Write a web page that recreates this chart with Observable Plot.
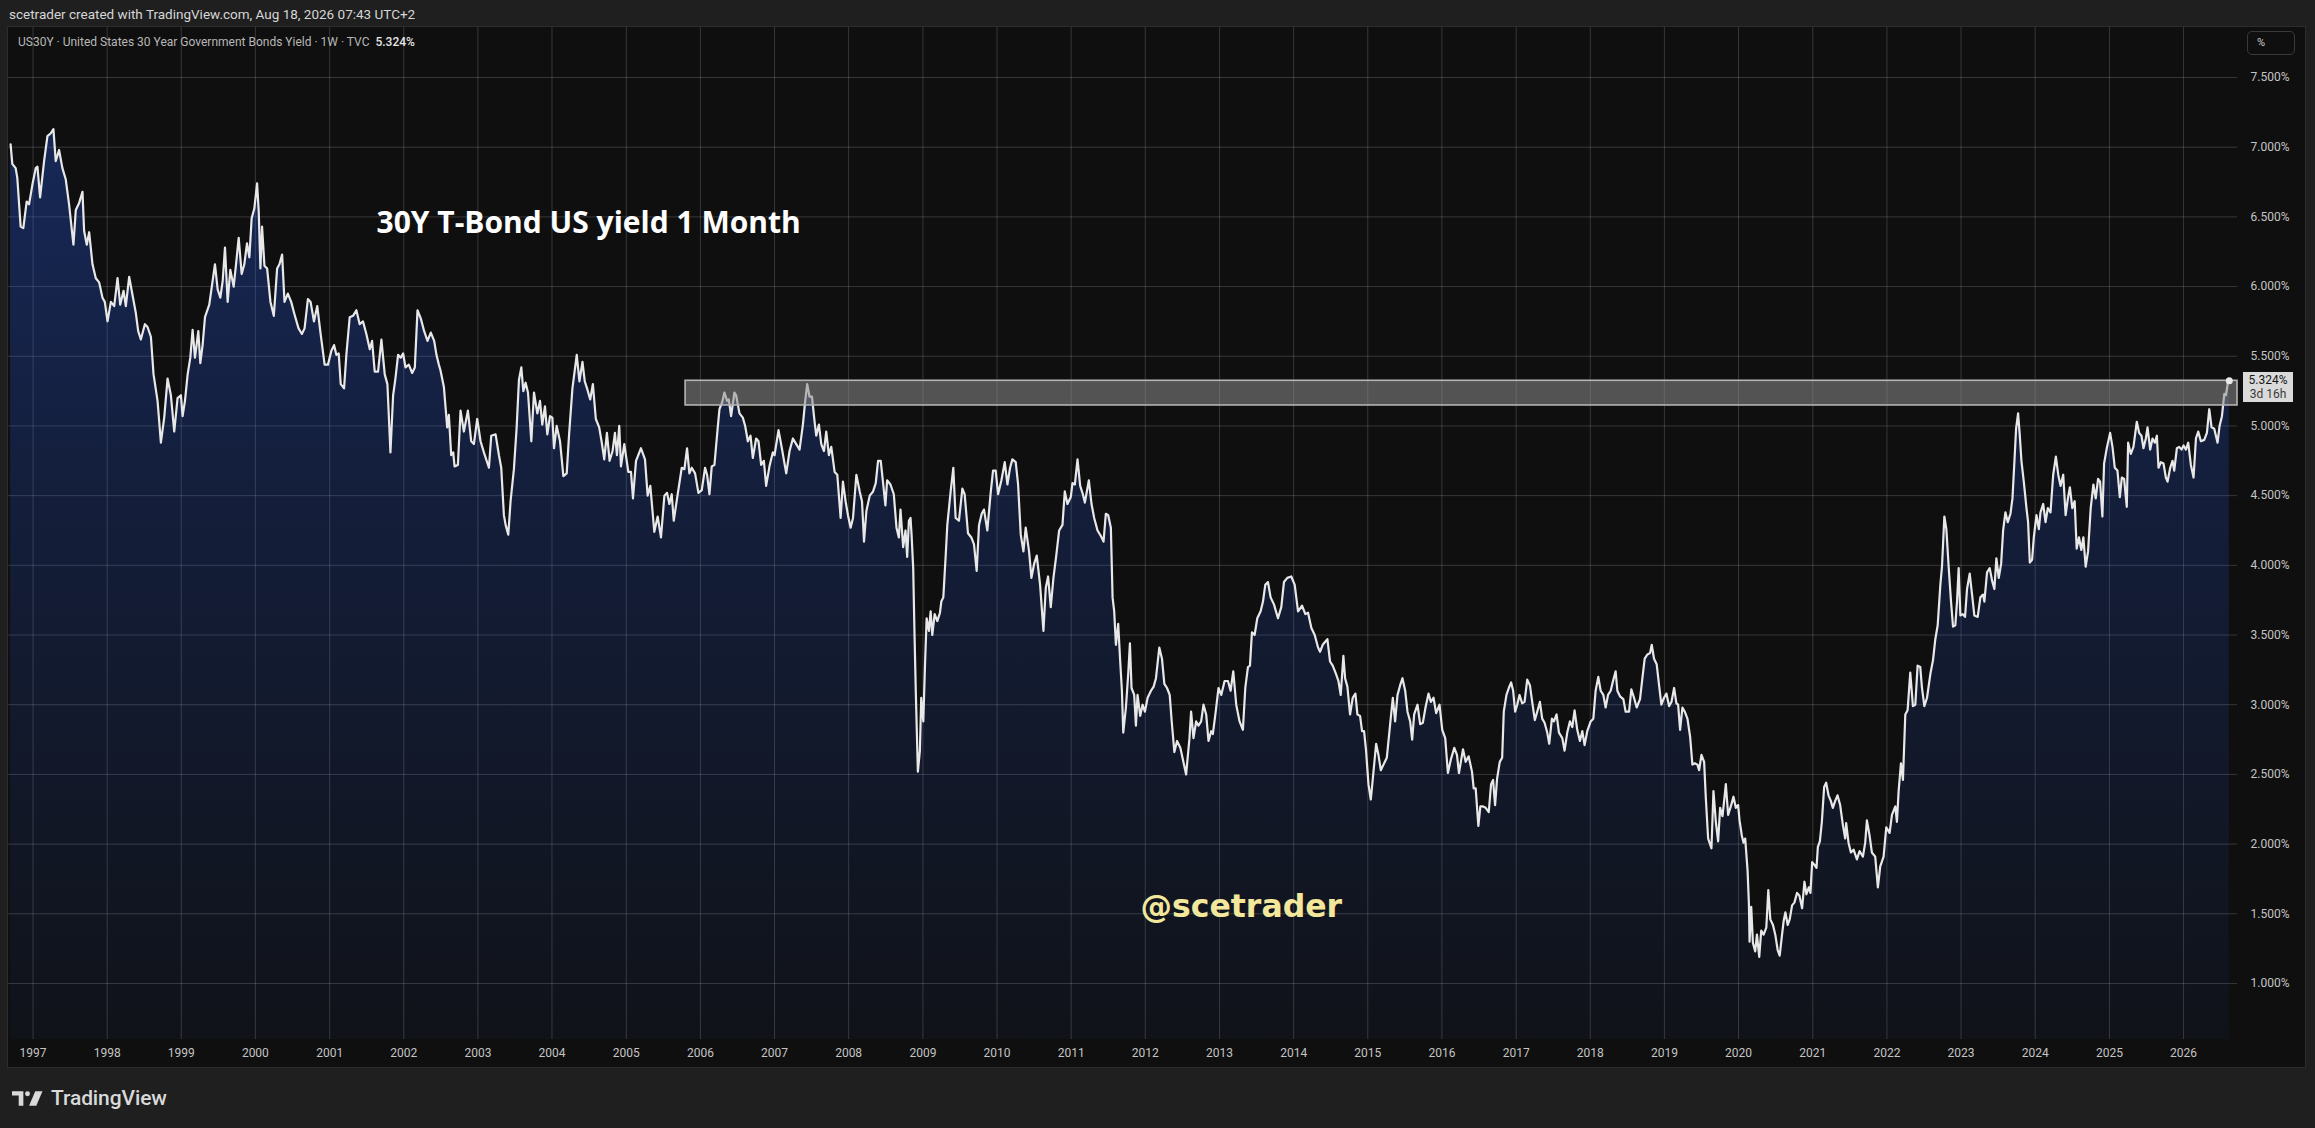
<!DOCTYPE html>
<html>
<head>
<meta charset="utf-8">
<script src="https://cdn.jsdelivr.net/npm/d3@7"></script>
<script src="https://cdn.jsdelivr.net/npm/@observablehq/plot@0.6"></script>
<style>
  html, body { margin: 0; padding: 0; background: #1f1f1f; }
  #root { position: relative; width: 2315px; height: 1128px; background: #1f1f1f; overflow: hidden; font-family: Roboto, sans-serif; }
  #hdr { position: absolute; left: 9px; top: 6px; font-size: 13.5px; line-height: 17px; color: #d6d6d6; white-space: nowrap; }
  #panel { position: absolute; left: 8px; top: 27px; width: 2297px; height: 1040px; background: #0f0f0f; box-shadow: 0 0 0 1px #2c2c2c; }
  #panel svg { display: block; }
  #legend { position: absolute; left: 10px; top: 7px; font-size: 12px; line-height: 16px; color: #b8b8b8; white-space: nowrap; }
  #legend b { color: #e6e6e6; font-weight: 500; margin-left: 6px; }
  #pct { position: absolute; left: 2239px; top: 4px; width: 48px; height: 24px; border: 1px solid #3a3a3a; border-radius: 5px; box-sizing: border-box; font-size: 11px; color: #cfcfcf; line-height: 22px; padding-left: 9px; }
  #lastlbl { position: absolute; left: 2235px; width: 50px; height: 30px; background: #dadada; color: #151515; font-size: 12px; line-height: 14px; text-align: center; padding-top: 1px; box-sizing: border-box; }
  #lastlbl span { display: block; color: #3c3c3c; }
  #footer { position: absolute; left: 12px; top: 1086px; height: 24px; display: flex; align-items: center; color: #d9d9d9; }
  #footer .name { font-family: Roboto, sans-serif; font-weight: 500; font-size: 21px; margin-left: 8px; letter-spacing: -0.1px; }
</style>
</head>
<body>
<div id="root">
  <div id="hdr"></div>
  <div id="panel">
    <div id="legend"></div>
    <div id="pct">%</div>
  </div>
  <div id="footer">
    <svg width="31" height="15" viewBox="0 0 30 14"><path d="M0 0H11V14H6.5V4.2H0Z" fill="#d9d9d9"/><circle cx="15" cy="2.4" r="2.4" fill="#d9d9d9"/><path d="M22.5 0H29.5L23.5 14H16.5Z" fill="#d9d9d9"/></svg>
    <span class="name">TradingView</span>
  </div>
</div>
<script>
// ---------------- text ----------------
const headerText = "scetrader created with TradingView.com, Aug 18, 2026 07:43 UTC+2";
const legendText = "US30Y · United States 30 Year Government Bonds Yield · 1W · TVC";
const legendValue = "5.324%";
const titleText = "30Y T-Bond US yield 1 Month";
const watermarkText = "@scetrader";
const lastLabelLines = ["5.324%", "3d 16h"];

// ---------------- axes ----------------
const yearTicks = [1997,1998,1999,2000,2001,2002,2003,2004,2005,2006,2007,2008,2009,2010,2011,2012,2013,2014,2015,2016,2017,2018,2019,2020,2021,2022,2023,2024,2025,2026];
const yieldTicks = [1.0,1.5,2.0,2.5,3.0,3.5,4.0,4.5,5.0,5.5,6.0,6.5,7.0,7.5];
const xRange = [1996.6696, 2026.728];   // visible time span (decimal years)
const yRange = [0.598, 7.8587];          // visible yield span (%)

// ---------------- resistance zone ----------------
const zoneStart = 2005.80;
const zoneLow = 5.147;
const zoneHigh = 5.324;

// ---------------- weekly yield: [decimal year, yield %] ----------------
const p1996_2002 = [[1996.698,7.02],[1996.721,6.88],[1996.766,6.85],[1996.788,6.78],[1996.833,6.43],[1996.869,6.42],[1996.914,6.61],[1996.946,6.59],[1996.991,6.73],[1997.036,6.85],[1997.059,6.86],[1997.095,6.64],[1997.149,6.90],[1997.194,7.08],[1997.239,7.10],[1997.275,7.13],[1997.306,6.90],[1997.351,6.98],[1997.396,6.85],[1997.441,6.77],[1997.486,6.59],[1997.545,6.30],[1997.577,6.55],[1997.622,6.60],[1997.667,6.68],[1997.689,6.40],[1997.725,6.30],[1997.757,6.39],[1997.802,6.16],[1997.847,6.06],[1997.892,6.03],[1997.937,5.92],[1997.968,5.89],[1998.005,5.75],[1998.050,5.89],[1998.095,5.86],[1998.140,6.06],[1998.176,5.87],[1998.221,5.97],[1998.252,5.86],[1998.297,6.07],[1998.342,5.94],[1998.387,5.81],[1998.419,5.68],[1998.455,5.62],[1998.509,5.73],[1998.545,5.71],[1998.590,5.64],[1998.626,5.37],[1998.680,5.18],[1998.725,4.88],[1998.770,5.06],[1998.815,5.34],[1998.860,5.22],[1998.905,4.96],[1998.950,5.20],[1998.995,5.22],[1999.018,5.07],[1999.050,5.18],[1999.086,5.37],[1999.122,5.49],[1999.153,5.69],[1999.185,5.49],[1999.230,5.68],[1999.257,5.45],[1999.288,5.58],[1999.320,5.78],[1999.378,5.87],[1999.423,6.04],[1999.455,6.16],[1999.491,5.98],[1999.527,5.92],[1999.559,6.04],[1999.590,6.28],[1999.626,5.89],[1999.662,6.12],[1999.707,6.00],[1999.739,6.16],[1999.775,6.35],[1999.815,6.09],[1999.851,6.16],[1999.887,6.31],[1999.919,6.21],[1999.950,6.49],[1999.986,6.56],[2000.023,6.74],[2000.045,6.54],[2000.068,6.13],[2000.090,6.43],[2000.122,6.15],[2000.158,6.13],[2000.203,5.89],[2000.248,5.79],[2000.293,6.13],[2000.324,6.16],[2000.360,6.23],[2000.392,5.89],[2000.437,5.95],[2000.482,5.89],[2000.527,5.80],[2000.581,5.70],[2000.626,5.66],[2000.662,5.70],[2000.707,5.91],[2000.743,5.89],[2000.788,5.75],[2000.833,5.86],[2000.878,5.66],[2000.932,5.44],[2000.977,5.44],[2001.023,5.54],[2001.059,5.58],[2001.090,5.51],[2001.122,5.52],[2001.149,5.30],[2001.194,5.27],[2001.225,5.51],[2001.270,5.78],[2001.315,5.79],[2001.360,5.83],[2001.405,5.73],[2001.450,5.75],[2001.495,5.66],[2001.541,5.55],[2001.572,5.61],[2001.608,5.39],[2001.653,5.39],[2001.698,5.62],[2001.743,5.37],[2001.779,5.30],[2001.820,4.81],[2001.856,5.22],[2001.887,5.34],[2001.923,5.51],[2001.959,5.49],[2001.991,5.52],[2002.023,5.42],[2002.068,5.44],[2002.113,5.38],[2002.149,5.42],[2002.185,5.83],[2002.230,5.77],[2002.275,5.68],[2002.320,5.61],[2002.365,5.67],[2002.410,5.61],[2002.441,5.51],[2002.473,5.44]];

const p2002_2008 = [[2002.495,5.40],[2002.541,5.28],[2002.586,4.99],[2002.608,5.08],[2002.640,4.79],[2002.667,4.81],[2002.685,4.71],[2002.730,4.72],[2002.766,5.11],[2002.811,4.96],[2002.865,5.11],[2002.910,4.89],[2002.946,4.87],[2002.991,5.05],[2003.036,4.89],[2003.081,4.81],[2003.149,4.70],[2003.180,4.93],[2003.239,4.94],[2003.284,4.79],[2003.315,4.70],[2003.351,4.36],[2003.374,4.29],[2003.410,4.22],[2003.441,4.46],[2003.486,4.69],[2003.523,4.99],[2003.554,5.33],[2003.586,5.42],[2003.613,5.25],[2003.644,5.31],[2003.676,5.24],[2003.721,4.89],[2003.757,5.24],[2003.802,5.09],[2003.838,5.18],[2003.869,5.01],[2003.905,5.14],[2003.937,4.94],[2003.973,5.07],[2004.005,5.06],[2004.027,4.84],[2004.063,5.00],[2004.108,4.89],[2004.153,4.64],[2004.198,4.66],[2004.230,4.94],[2004.275,5.27],[2004.333,5.51],[2004.369,5.32],[2004.410,5.46],[2004.441,5.32],[2004.477,5.26],[2004.514,5.19],[2004.550,5.30],[2004.590,5.05],[2004.635,4.99],[2004.667,4.89],[2004.703,4.76],[2004.739,4.95],[2004.775,4.75],[2004.815,4.82],[2004.847,4.95],[2004.874,4.79],[2004.905,5.00],[2004.928,4.71],[2004.973,4.87],[2005.027,4.67],[2005.063,4.67],[2005.090,4.48],[2005.131,4.75],[2005.198,4.84],[2005.252,4.76],[2005.288,4.50],[2005.324,4.57],[2005.378,4.24],[2005.423,4.35],[2005.468,4.20],[2005.514,4.50],[2005.550,4.52],[2005.581,4.44],[2005.613,4.51],[2005.640,4.32],[2005.685,4.48],[2005.748,4.70],[2005.784,4.69],[2005.820,4.84],[2005.851,4.66],[2005.883,4.70],[2005.928,4.66],[2005.973,4.52],[2006.018,4.54],[2006.063,4.70],[2006.090,4.65],[2006.122,4.51],[2006.153,4.71],[2006.189,4.72],[2006.234,4.99],[2006.257,5.12],[2006.293,5.17],[2006.324,5.24],[2006.360,5.18],[2006.383,5.19],[2006.414,5.07],[2006.459,5.24],[2006.482,5.22],[2006.527,5.09],[2006.572,5.06],[2006.604,5.00],[2006.640,4.89],[2006.676,4.93],[2006.707,4.77],[2006.752,4.91],[2006.784,4.89],[2006.820,4.72],[2006.856,4.75],[2006.887,4.57],[2006.932,4.71],[2006.977,4.81],[2007.000,4.79],[2007.054,4.97],[2007.099,4.84],[2007.158,4.66],[2007.203,4.82],[2007.248,4.91],[2007.293,4.87],[2007.338,4.83],[2007.383,5.01],[2007.414,5.18],[2007.441,5.30],[2007.473,5.21],[2007.505,5.21],[2007.541,5.03],[2007.563,4.93],[2007.599,5.01],[2007.631,4.87],[2007.667,4.82],[2007.698,4.96],[2007.734,4.79],[2007.766,4.85],[2007.811,4.67],[2007.847,4.65],[2007.892,4.34],[2007.923,4.60],[2007.959,4.46],[2007.991,4.36],[2008.027,4.27],[2008.059,4.34],[2008.104,4.65],[2008.149,4.53],[2008.180,4.46],[2008.207,4.17],[2008.239,4.39],[2008.284,4.50],[2008.329,4.53],[2008.365,4.59],[2008.396,4.75],[2008.432,4.75],[2008.464,4.59]];

const p2008_2014 = [[2008.495,4.43],[2008.518,4.61],[2008.563,4.58],[2008.608,4.51],[2008.644,4.27],[2008.676,4.20],[2008.698,4.40],[2008.734,4.13],[2008.766,4.25],[2008.788,4.06],[2008.811,4.32],[2008.833,4.34],[2008.847,4.22],[2008.869,3.98],[2008.887,3.50],[2008.905,3.07],[2008.932,2.52],[2008.959,2.67],[2008.977,3.05],[2009.005,2.88],[2009.027,3.27],[2009.050,3.62],[2009.081,3.53],[2009.104,3.67],[2009.126,3.50],[2009.158,3.65],[2009.194,3.60],[2009.230,3.66],[2009.248,3.74],[2009.275,3.77],[2009.306,4.06],[2009.329,4.29],[2009.374,4.53],[2009.410,4.70],[2009.441,4.34],[2009.486,4.32],[2009.532,4.55],[2009.563,4.51],[2009.608,4.23],[2009.653,4.20],[2009.689,4.15],[2009.725,3.96],[2009.757,4.29],[2009.793,4.37],[2009.824,4.40],[2009.869,4.25],[2009.914,4.52],[2009.946,4.68],[2009.982,4.68],[2010.014,4.51],[2010.059,4.61],[2010.104,4.74],[2010.140,4.58],[2010.176,4.70],[2010.207,4.76],[2010.252,4.74],[2010.284,4.58],[2010.320,4.22],[2010.356,4.10],[2010.387,4.27],[2010.432,4.10],[2010.464,3.91],[2010.500,4.01],[2010.536,4.07],[2010.581,3.86],[2010.626,3.53],[2010.658,3.84],[2010.689,3.92],[2010.725,3.70],[2010.761,3.91],[2010.797,4.06],[2010.838,4.25],[2010.883,4.29],[2010.914,4.53],[2010.950,4.44],[2010.995,4.49],[2011.018,4.59],[2011.050,4.58],[2011.086,4.76],[2011.122,4.57],[2011.158,4.51],[2011.185,4.45],[2011.239,4.61],[2011.275,4.44],[2011.311,4.34],[2011.356,4.25],[2011.401,4.21],[2011.437,4.17],[2011.468,4.37],[2011.500,4.36],[2011.536,4.27],[2011.559,3.77],[2011.581,3.67],[2011.604,3.43],[2011.635,3.58],[2011.662,3.31],[2011.685,3.10],[2011.703,2.80],[2011.739,2.98],[2011.770,3.22],[2011.793,3.44],[2011.815,3.12],[2011.851,3.07],[2011.874,2.85],[2011.896,3.07],[2011.932,2.92],[2011.964,3.00],[2011.995,2.95],[2012.032,3.05],[2012.077,3.10],[2012.113,3.13],[2012.144,3.19],[2012.189,3.41],[2012.225,3.33],[2012.257,3.15],[2012.293,3.12],[2012.329,3.07],[2012.356,2.88],[2012.392,2.66],[2012.428,2.74],[2012.473,2.69],[2012.505,2.61],[2012.550,2.50],[2012.595,2.76],[2012.617,2.95],[2012.649,2.76],[2012.685,2.88],[2012.716,2.85],[2012.752,2.88],[2012.784,3.00],[2012.820,2.93],[2012.851,2.74],[2012.887,2.81],[2012.910,2.79],[2012.941,2.92],[2012.986,3.12],[2013.023,3.07],[2013.068,3.17],[2013.113,3.17],[2013.149,3.10],[2013.185,3.24],[2013.225,3.00],[2013.270,2.88],[2013.315,2.82],[2013.347,3.12],[2013.383,3.27],[2013.410,3.28],[2013.437,3.52],[2013.473,3.50],[2013.509,3.62],[2013.554,3.67],[2013.586,3.74],[2013.617,3.86],[2013.653,3.88],[2013.689,3.77],[2013.734,3.72],[2013.788,3.62],[2013.833,3.70],[2013.869,3.88],[2013.914,3.91],[2013.968,3.92],[2014.014,3.86],[2014.059,3.67],[2014.113,3.71],[2014.158,3.65],[2014.194,3.66],[2014.239,3.55],[2014.284,3.50],[2014.329,3.41]];

const p2014_2020 = [[2014.356,3.38],[2014.392,3.43],[2014.423,3.45],[2014.455,3.47],[2014.491,3.31],[2014.527,3.28],[2014.572,3.22],[2014.604,3.17],[2014.635,3.07],[2014.671,3.35],[2014.694,3.19],[2014.725,3.13],[2014.761,2.93],[2014.797,3.05],[2014.833,3.08],[2014.860,2.93],[2014.896,2.92],[2014.923,2.81],[2014.950,2.81],[2014.977,2.67],[2015.009,2.43],[2015.041,2.32],[2015.077,2.52],[2015.113,2.72],[2015.144,2.64],[2015.176,2.53],[2015.212,2.57],[2015.257,2.62],[2015.302,2.86],[2015.338,3.05],[2015.369,2.88],[2015.401,3.07],[2015.437,3.14],[2015.468,3.19],[2015.505,3.10],[2015.536,2.95],[2015.572,2.88],[2015.599,2.75],[2015.626,2.93],[2015.671,3.00],[2015.707,2.86],[2015.743,2.87],[2015.779,2.98],[2015.820,3.08],[2015.851,3.02],[2015.887,3.05],[2015.923,2.94],[2015.968,3.00],[2016.005,2.82],[2016.045,2.76],[2016.081,2.51],[2016.122,2.61],[2016.167,2.69],[2016.203,2.64],[2016.230,2.51],[2016.284,2.68],[2016.320,2.59],[2016.360,2.63],[2016.405,2.52],[2016.428,2.40],[2016.455,2.40],[2016.491,2.13],[2016.518,2.27],[2016.554,2.27],[2016.590,2.26],[2016.631,2.23],[2016.662,2.43],[2016.689,2.46],[2016.716,2.28],[2016.743,2.47],[2016.779,2.59],[2016.811,2.62],[2016.833,2.95],[2016.869,3.07],[2016.901,3.12],[2016.932,3.16],[2016.959,3.10],[2016.986,2.95],[2017.014,3.00],[2017.045,3.07],[2017.081,3.01],[2017.113,3.02],[2017.149,3.18],[2017.185,3.14],[2017.216,3.02],[2017.252,2.89],[2017.284,2.95],[2017.320,3.02],[2017.351,2.90],[2017.383,2.87],[2017.419,2.80],[2017.446,2.72],[2017.482,2.90],[2017.509,2.88],[2017.545,2.93],[2017.577,2.80],[2017.622,2.76],[2017.653,2.67],[2017.689,2.80],[2017.725,2.88],[2017.757,2.84],[2017.788,2.96],[2017.824,2.82],[2017.860,2.74],[2017.892,2.81],[2017.923,2.71],[2017.959,2.81],[2018.005,2.88],[2018.041,2.90],[2018.072,3.10],[2018.108,3.20],[2018.140,3.10],[2018.176,3.07],[2018.207,2.98],[2018.239,3.07],[2018.275,3.10],[2018.302,3.16],[2018.342,3.24],[2018.365,3.10],[2018.401,3.06],[2018.446,3.04],[2018.477,2.95],[2018.523,2.95],[2018.554,3.11],[2018.590,3.05],[2018.626,2.98],[2018.671,3.04],[2018.703,3.19],[2018.734,3.33],[2018.770,3.36],[2018.806,3.37],[2018.829,3.43],[2018.860,3.33],[2018.896,3.29],[2018.928,3.14],[2018.959,3.00],[2018.995,3.05],[2019.027,3.08],[2019.063,2.99],[2019.095,3.02],[2019.131,3.12],[2019.162,3.01],[2019.185,3.00],[2019.212,2.82],[2019.243,2.98],[2019.275,2.95],[2019.311,2.90],[2019.347,2.77],[2019.378,2.57],[2019.410,2.58],[2019.446,2.57],[2019.468,2.53],[2019.500,2.64],[2019.536,2.59],[2019.559,2.33],[2019.590,2.04],[2019.635,1.97],[2019.662,2.38],[2019.694,2.16],[2019.725,2.02],[2019.752,2.26],[2019.784,2.20],[2019.806,2.31],[2019.829,2.43],[2019.860,2.21],[2019.896,2.27],[2019.932,2.34],[2019.964,2.26],[2019.995,2.28]];

const p2020_2026 = [[2020.014,2.17],[2020.045,2.06],[2020.068,2.01],[2020.090,2.04],[2020.122,1.81],[2020.140,1.57],[2020.149,1.30],[2020.171,1.55],[2020.194,1.29],[2020.225,1.23],[2020.248,1.35],[2020.279,1.19],[2020.306,1.38],[2020.338,1.35],[2020.374,1.40],[2020.401,1.67],[2020.428,1.46],[2020.464,1.42],[2020.495,1.35],[2020.527,1.24],[2020.554,1.20],[2020.586,1.35],[2020.608,1.45],[2020.631,1.51],[2020.662,1.42],[2020.689,1.46],[2020.721,1.56],[2020.752,1.58],[2020.788,1.65],[2020.820,1.63],[2020.856,1.54],[2020.887,1.73],[2020.914,1.64],[2020.946,1.69],[2020.968,1.65],[2020.991,1.87],[2021.023,1.85],[2021.050,1.83],[2021.068,1.98],[2021.095,2.02],[2021.122,2.16],[2021.153,2.41],[2021.180,2.44],[2021.212,2.35],[2021.243,2.31],[2021.270,2.26],[2021.302,2.31],[2021.333,2.35],[2021.369,2.28],[2021.405,2.14],[2021.437,2.04],[2021.450,2.15],[2021.482,2.01],[2021.514,1.94],[2021.550,1.96],[2021.595,1.89],[2021.631,1.95],[2021.676,1.91],[2021.707,2.01],[2021.730,2.17],[2021.766,2.06],[2021.797,1.94],[2021.842,1.91],[2021.878,1.69],[2021.910,1.84],[2021.955,1.91],[2021.991,2.12],[2022.036,2.08],[2022.068,2.21],[2022.113,2.27],[2022.135,2.16],[2022.158,2.38],[2022.189,2.58],[2022.216,2.46],[2022.248,2.93],[2022.279,2.96],[2022.315,3.23],[2022.351,2.99],[2022.383,3.00],[2022.414,3.28],[2022.450,3.27],[2022.473,3.12],[2022.505,2.99],[2022.541,3.05],[2022.586,3.22],[2022.622,3.32],[2022.653,3.47],[2022.685,3.57],[2022.721,3.86],[2022.743,3.99],[2022.775,4.35],[2022.802,4.26],[2022.833,3.99],[2022.865,3.74],[2022.892,3.56],[2022.923,3.57],[2022.946,3.74],[2022.968,3.98],[2022.991,3.64],[2023.023,3.65],[2023.054,3.63],[2023.081,3.83],[2023.117,3.94],[2023.149,3.79],[2023.180,3.64],[2023.225,3.63],[2023.261,3.77],[2023.297,3.79],[2023.315,3.74],[2023.351,3.95],[2023.387,3.98],[2023.419,3.89],[2023.450,3.83],[2023.477,4.05],[2023.509,3.91],[2023.541,4.01],[2023.568,4.25],[2023.599,4.38],[2023.631,4.31],[2023.667,4.37],[2023.694,4.48],[2023.721,4.75],[2023.743,4.98],[2023.770,5.09],[2023.793,4.93],[2023.815,4.75],[2023.847,4.60],[2023.883,4.41],[2023.905,4.31],[2023.928,4.02],[2023.959,4.04],[2023.982,4.20],[2024.018,4.36],[2024.050,4.26],[2024.072,4.38],[2024.108,4.44],[2024.140,4.31],[2024.171,4.41],[2024.207,4.38],[2024.243,4.65],[2024.279,4.78],[2024.311,4.65],[2024.342,4.57],[2024.378,4.65],[2024.410,4.36],[2024.441,4.48],[2024.468,4.56],[2024.500,4.41],[2024.532,4.46],[2024.559,4.12],[2024.590,4.20],[2024.622,4.11],[2024.649,4.20],[2024.680,3.99],[2024.712,4.10],[2024.748,4.41],[2024.784,4.58],[2024.815,4.48],[2024.847,4.62],[2024.874,4.60],[2024.905,4.35],[2024.928,4.73],[2024.964,4.84],[2025.009,4.95],[2025.041,4.85],[2025.072,4.70],[2025.108,4.68],[2025.140,4.49],[2025.167,4.63],[2025.198,4.62],[2025.234,4.42],[2025.252,4.88],[2025.288,4.80],[2025.324,4.85],[2025.369,5.03],[2025.401,4.95],[2025.432,4.93],[2025.459,4.84],[2025.491,4.91],[2025.514,4.99],[2025.550,4.83],[2025.581,4.91],[2025.613,4.88],[2025.640,4.93],[2025.662,4.70],[2025.694,4.74],[2025.730,4.73],[2025.761,4.63],[2025.784,4.60],[2025.820,4.70],[2025.851,4.75],[2025.874,4.68],[2025.910,4.84],[2025.941,4.85],[2025.973,4.83],[2026.000,4.86],[2026.032,4.83],[2026.063,4.88],[2026.099,4.72],[2026.135,4.63],[2026.167,4.91],[2026.198,4.96],[2026.234,4.89],[2026.279,4.90],[2026.315,4.95],[2026.347,5.12],[2026.378,4.99],[2026.414,4.98],[2026.459,4.88],[2026.486,5.00],[2026.518,5.07],[2026.550,5.23],[2026.572,5.22],[2026.595,5.30],[2026.617,5.324]];

// ---------------- build ----------------
function toDate(t) {
  const y = Math.floor(t);
  const a = Date.UTC(y, 0, 1), b = Date.UTC(y + 1, 0, 1);
  return new Date(a + (t - y) * (b - a));
}

const series = [...p1996_2002, ...p2002_2008, ...p2008_2014, ...p2014_2020, ...p2020_2026]
  .map(([t, v]) => ({date: toDate(t), value: v}));
const last = series[series.length - 1];
const xDomain = xRange.map(toDate);
const yearDates = yearTicks.map(y => toDate(y));
const zone = [{start: toDate(zoneStart), end: xDomain[1], low: zoneLow, high: zoneHigh}];

document.getElementById("hdr").textContent = headerText;
document.getElementById("legend").append(legendText);
const lv = document.createElement("b"); lv.textContent = legendValue;
document.getElementById("legend").append(lv);

const chart = Plot.plot({
  width: 2297,
  height: 1040,
  marginLeft: 0,
  marginRight: 68,
  marginTop: 0,
  marginBottom: 28,
  style: {background: "#0f0f0f", color: "#c4c4c4", fontFamily: "Roboto, sans-serif", fontSize: "12px", overflow: "visible"},
  x: {type: "utc", domain: xDomain, ticks: yearDates, tickFormat: d3.utcFormat("%Y"), tickSize: 0, tickPadding: 9, label: null},
  y: {domain: yRange, ticks: yieldTicks, tickFormat: d => d.toFixed(3) + "%", axis: "right", tickSize: 0, tickPadding: 13, label: null},
  marks: [
    Plot.ruleY(yieldTicks, {stroke: "#ffffff", strokeOpacity: 0.17, strokeWidth: 1}),
    Plot.ruleX(yearDates, {stroke: "#ffffff", strokeOpacity: 0.17, strokeWidth: 1}),
    Plot.areaY(series, {x: "date", y1: yRange[0], y2: "value", fill: "url(#areaGrad)"}),
    Plot.lineY(series, {x: "date", y: "value", stroke: "#e8e8e8", strokeWidth: 2.2, strokeLinejoin: "round"}),
    Plot.rect(zone, {x1: "start", x2: "end", y1: "low", y2: "high", fill: "#8c8c8c", fillOpacity: 0.55, stroke: "#b4b4b4", strokeWidth: 1.6}),
    Plot.dot([last], {x: "date", y: "value", r: 3.5, fill: "#e8e8e8"}),
    Plot.text([titleText], {text: d => d, frameAnchor: "top-left", dx: 368, dy: 205, lineAnchor: "bottom", textAnchor: "start",
      fill: "#ffffff", fontSize: 30, fontWeight: 700, fontFamily: "'Open Sans', sans-serif"}),
    Plot.text([watermarkText], {text: d => d, frameAnchor: "top-left", dx: 1132, dy: 889, lineAnchor: "bottom", textAnchor: "start",
      fill: "#f3e79c", fontSize: 31.5, fontWeight: 700, fontFamily: "'DejaVu Sans', sans-serif"})
  ]
});

// gradient used by the area fill (TradingView style: top colour fading to the bottom of the pane)
const NS = "http://www.w3.org/2000/svg";
const defs = document.createElementNS(NS, "defs");
const lg = document.createElementNS(NS, "linearGradient");
lg.setAttribute("id", "areaGrad");
lg.setAttribute("x1", "0"); lg.setAttribute("y1", "0"); lg.setAttribute("x2", "0"); lg.setAttribute("y2", "1");
[["0", 0.30], ["0.45", 0.17], ["1", 0.04]].forEach(([o, a]) => {
  const s = document.createElementNS(NS, "stop");
  s.setAttribute("offset", o);
  s.setAttribute("stop-color", "rgb(41,98,255)");
  s.setAttribute("stop-opacity", a);
  lg.appendChild(s);
});
defs.appendChild(lg);
chart.insertBefore(defs, chart.firstChild);

const panel = document.getElementById("panel");
panel.insertBefore(chart, panel.firstChild);

// last-value label on the price scale, placed with the plot's own y scale
const ys = chart.scale("y");
const yPix = typeof ys.apply === "function" ? ys.apply(last.value) : d3.scaleLinear(ys.domain, ys.range)(last.value);
const lbl = document.createElement("div");
lbl.id = "lastlbl";
lbl.style.top = (yPix - 8) + "px";
lbl.append(lastLabelLines[0]);
const l2 = document.createElement("span"); l2.textContent = lastLabelLines[1];
lbl.append(l2);
panel.appendChild(lbl);
</script>
</body>
</html>
